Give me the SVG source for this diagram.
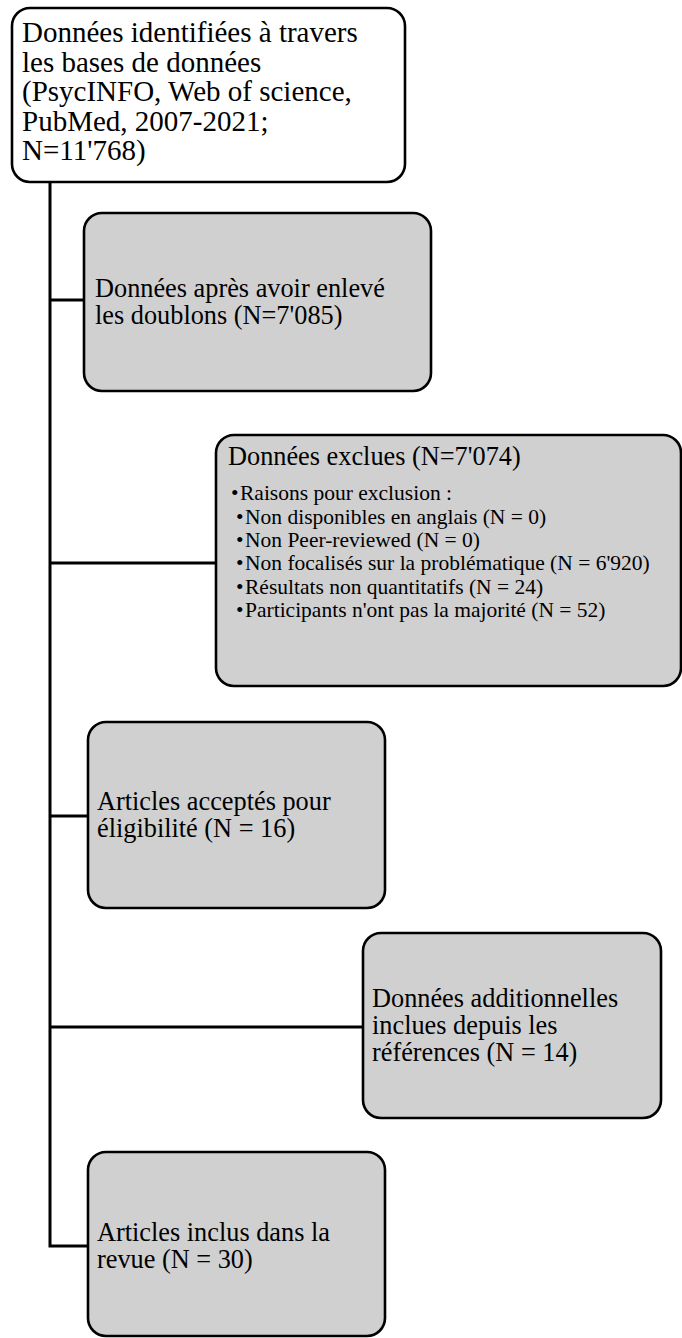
<svg xmlns="http://www.w3.org/2000/svg" width="682" height="1338" viewBox="0 0 682 1338">
<style>
.box{fill:#d0d0d0;stroke:#000;stroke-width:2.6}
.top{fill:#fff;stroke:#000;stroke-width:2.6}
.ln{fill:none;stroke:#000;stroke-width:3;stroke-linejoin:miter}
text{font-family:"Liberation Serif","Times New Roman",serif;fill:#000}
.big{font-size:29px}
.mid{font-size:26.3px}
.sm{font-size:21.5px}
</style>
<rect width="682" height="1338" fill="#fff"/>
<g id="connectors">
<polyline class="ln" points="50,182 50,1246 87,1246"/>
<line class="ln" x1="50" y1="300" x2="84" y2="300"/>
<line class="ln" x1="50" y1="563" x2="216" y2="563"/>
<line class="ln" x1="50" y1="816" x2="88" y2="816"/>
<line class="ln" x1="50" y1="1027" x2="363" y2="1027"/>
</g>
<g id="n1">
<rect class="top" x="12" y="8" width="393" height="174" rx="18"/>
<text class="big" x="22" y="42">Données identifiées à travers</text>
<text class="big" x="22" y="71.5">les bases de données</text>
<text class="big" x="22" y="101">(PsycINFO, Web of science,</text>
<text class="big" x="22" y="130.5">PubMed, 2007-2021;</text>
<text class="big" x="22" y="160">N=11'768)</text>
</g>
<g id="n2">
<rect class="box" x="84" y="213" width="347" height="178" rx="18"/>
<text class="mid" x="95" y="297">Données après avoir enlevé</text>
<text class="mid" x="95" y="323.5">les doublons (N=7'085)</text>
</g>
<g id="n3">
<rect class="box" x="216" y="435" width="465" height="251" rx="18"/>
<text class="mid" x="228" y="465">Données exclues (N=7'074)</text>
<text class="sm" x="231" y="500">•</text><text class="sm" x="240" y="500">Raisons pour exclusion :</text>
<text class="sm" x="236" y="523.5">•</text><text class="sm" x="245" y="523.5">Non disponibles en anglais (N = 0)</text>
<text class="sm" x="236" y="547">•</text><text class="sm" x="245" y="547">Non Peer-reviewed (N = 0)</text>
<text class="sm" x="236" y="570">•</text><text class="sm" x="245" y="570">Non focalisés sur la problématique (N = 6'920)</text>
<text class="sm" x="236" y="593.5">•</text><text class="sm" x="245" y="593.5">Résultats non quantitatifs (N = 24)</text>
<text class="sm" x="236" y="617">•</text><text class="sm" x="245" y="617">Participants n'ont pas la majorité (N = 52)</text>
</g>
<g id="n4">
<rect class="box" x="88" y="722" width="297" height="186" rx="18"/>
<text class="mid" x="97" y="810">Articles acceptés pour</text>
<text class="mid" x="97" y="837">éligibilité (N = 16)</text>
</g>
<g id="n5">
<rect class="box" x="363" y="933" width="298" height="185" rx="18"/>
<text class="mid" x="372" y="1007">Données additionnelles</text>
<text class="mid" x="372" y="1034">inclues depuis les</text>
<text class="mid" x="372" y="1061">références (N = 14)</text>
</g>
<g id="n6">
<rect class="box" x="88" y="1152" width="297" height="184" rx="18"/>
<text class="mid" x="97" y="1241">Articles inclus dans la</text>
<text class="mid" x="97" y="1268">revue (N = 30)</text>
</g>
</svg>
